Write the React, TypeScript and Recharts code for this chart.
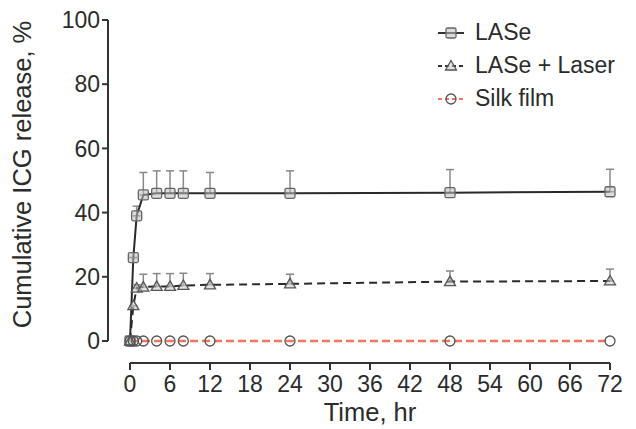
import { LineChart, Line, XAxis, YAxis, ErrorBar } from 'recharts'

// sampling times (hr) and cumulative release (%)
const TIMES = [0, 0.5, 1, 2, 4, 6, 8, 12, 24, 48, 72]
const LASE = [0, 26, 39, 45.5, 46, 46, 46, 46, 46, 46.2, 46.5]
const LASE_ERR = [0, 0, 3, 7, 7, 7, 7, 6.5, 7, 7.2, 7]
const LASER = [0, 11, 16.5, 16.8, 17, 17, 17.3, 17.5, 17.8, 18.5, 18.7]
const LASER_ERR = [0, 0, 1, 4, 4, 4, 3.8, 3.5, 3, 3.3, 3.7]
const SILK = [0, 0, 0, 0, 0, 0, 0, 0, 0, 0, 0]

const X_TICKS = [0, 6, 12, 18, 24, 30, 36, 42, 48, 54, 60, 66, 72]
const Y_TICKS = [0, 20, 40, 60, 80, 100]

const rows = TIMES.map((t, i) => ({
  t,
  lase: LASE[i],
  laseErr: [0, LASE_ERR[i]],
  laser: LASER[i],
  laserErr: [0, LASER_ERR[i]],
  silk: SILK[i],
}))

const W = 636
const H = 429
const M = { top: 20, right: 26, bottom: 0, left: 0 }
const Y_AXIS_W = 108
const X_AXIS_H = 66
const GAP = 22 // offset between the detached axes and the data origin

const FONT = '"Liberation Sans", Arial, Helvetica, sans-serif'
const INK = '#2b2b2b'
const AXIS = '#333'
const SILK_RED = '#f27560'

const plotLeft = M.left + Y_AXIS_W
const plotRight = W - M.right
const plotTop = M.top
const plotBottom = H - M.bottom - X_AXIS_H

const SquareDot = (p: any) => {
  const { cx, cy } = p
  if (cx == null || cy == null) return null
  return <rect x={cx - 5} y={cy - 5} width={10} height={10} rx={1.5} fill="rgba(190,190,190,0.55)" stroke="#666" strokeWidth={1.3} />
}

const TriangleDot = (p: any) => {
  const { cx, cy } = p
  if (cx == null || cy == null) return null
  return <polygon points={`${cx},${cy - 5.5} ${cx + 5.5},${cy + 4} ${cx - 5.5},${cy + 4}`} fill="rgba(200,200,200,0.55)" stroke="#555" strokeWidth={1.3} />
}

const CircleDot = (p: any) => {
  const { cx, cy } = p
  if (cx == null || cy == null) return null
  return <circle cx={cx} cy={cy} r={5} fill="none" stroke="#555" strokeWidth={1.3} />
}

const LEGEND = [
  { label: 'LASe', color: '#333', dash: undefined, Dot: SquareDot },
  { label: 'LASe + Laser', color: '#333', dash: '4 3', Dot: TriangleDot },
  { label: 'Silk film', color: SILK_RED, dash: '4 3', Dot: CircleDot },
]

function LegendBox() {
  return (
    <div style={{ position: 'absolute', left: 434, top: 16, fontFamily: FONT, fontSize: 23, color: INK, lineHeight: 1 }}>
      {LEGEND.map((s) => (
        <div key={s.label} style={{ display: 'flex', alignItems: 'center', height: 33 }}>
          <svg width={34} height={20} style={{ marginRight: 7 }}>
            <line x1={4} y1={10} x2={30} y2={10} stroke={s.color} strokeWidth={2} strokeDasharray={s.dash} />
            <s.Dot cx={17} cy={10} />
          </svg>
          <span>{s.label}</span>
        </div>
      ))}
    </div>
  )
}

const YLabel = ({ viewBox }: any) => {
  const x = viewBox.x + 22
  const y = viewBox.y + (viewBox.height - GAP) / 2 - 6
  return (
    <text x={x} y={y} transform={`rotate(-90 ${x} ${y})`} textAnchor="middle" dominantBaseline="central" fontFamily={FONT} fontSize={25.5} fill={INK}>
      Cumulative ICG release, %
    </text>
  )
}

const XLabel = ({ viewBox }: any) => {
  const x = viewBox.x + GAP + (viewBox.width - GAP) / 2
  return (
    <text x={x} y={viewBox.y + 58} textAnchor="middle" fontFamily={FONT} fontSize={25.5} fill={INK}>
      Time, hr
    </text>
  )
}

export default function App() {
  const tickStyle = { fontFamily: FONT, fontSize: 23, fill: INK }
  return (
    <div style={{ position: 'absolute', left: 0, top: 0, width: W, height: H, background: '#fff' }}>
      <LineChart width={W} height={H} data={rows} margin={M}>
        <XAxis
          dataKey="t"
          type="number"
          domain={[0, 72]}
          ticks={X_TICKS}
          interval={0}
          padding={{ left: GAP, right: 0 }}
          height={X_AXIS_H}
          axisLine={false}
          tickLine={{ stroke: AXIS, strokeWidth: 2 }}
          tickSize={7}
          tickMargin={6}
          tick={tickStyle}
          label={<XLabel />}
        />
        <YAxis
          type="number"
          domain={[0, 100]}
          ticks={Y_TICKS}
          interval={0}
          padding={{ top: 0, bottom: GAP }}
          width={Y_AXIS_W}
          axisLine={false}
          tickLine={{ stroke: AXIS, strokeWidth: 2 }}
          tickSize={6}
          tickMargin={2}
          tick={tickStyle}
          label={<YLabel />}
        />
        <Line dataKey="lase" stroke="#2a2a2a" strokeWidth={2} dot={<SquareDot />} activeDot={false} isAnimationActive={false}>
          <ErrorBar dataKey="laseErr" direction="y" width={4} stroke="#888" strokeWidth={1.5} isAnimationActive={false} />
        </Line>
        <Line dataKey="laser" stroke="#2a2a2a" strokeWidth={2} strokeDasharray="8 5" dot={<TriangleDot />} activeDot={false} isAnimationActive={false}>
          <ErrorBar dataKey="laserErr" direction="y" width={4} stroke="#888" strokeWidth={1.5} isAnimationActive={false} />
        </Line>
        <Line dataKey="silk" stroke={SILK_RED} strokeWidth={2.5} strokeDasharray="8 4" dot={<CircleDot />} activeDot={false} isAnimationActive={false} />
      </LineChart>
      <svg width={W} height={H} style={{ position: 'absolute', left: 0, top: 0, pointerEvents: 'none' }}>
        <line x1={plotLeft} y1={plotTop} x2={plotLeft} y2={plotBottom - GAP} stroke={AXIS} strokeWidth={2} />
        <line x1={plotLeft + GAP} y1={plotBottom} x2={plotRight} y2={plotBottom} stroke={AXIS} strokeWidth={2} />
      </svg>
      <LegendBox />
    </div>
  )
}
